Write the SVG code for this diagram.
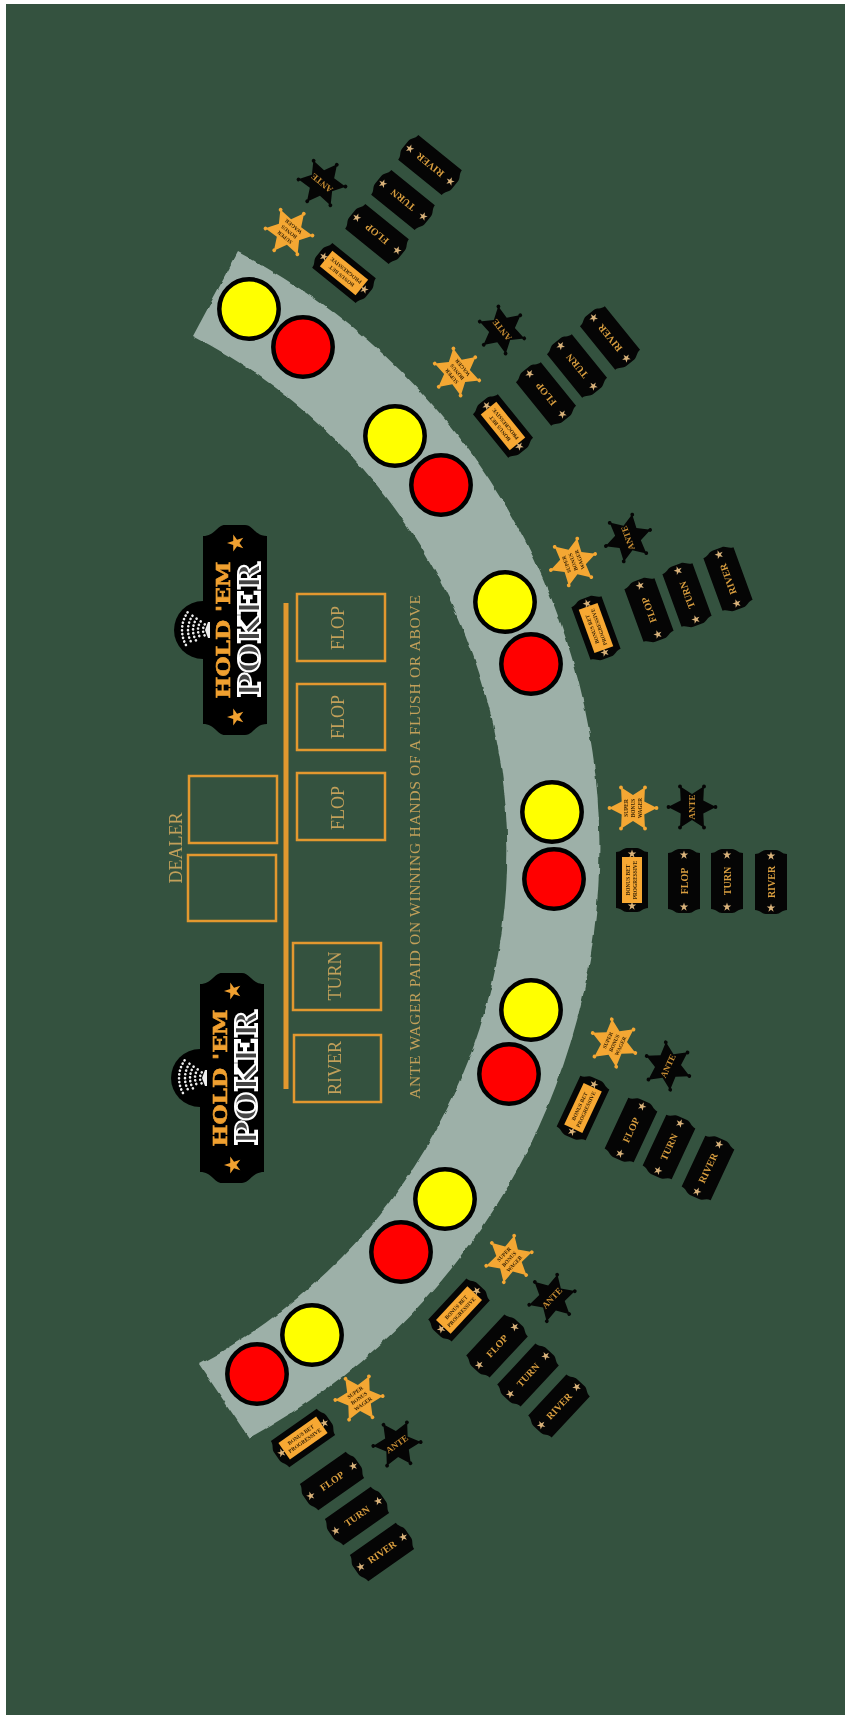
<svg xmlns="http://www.w3.org/2000/svg" width="845" height="1715" viewBox="0 0 845 1715">
<style>
text{font-family:"Liberation Serif","Times New Roman",serif;text-anchor:middle}
.box{fill:none;stroke:#e2982f;stroke-width:2.5}
.lab{font-size:18px;fill:#c2a05a}
.tt{font-size:10px;font-weight:700;fill:#d99e3f}
.an{font-size:9px;font-weight:700;fill:#c98f35}
.sm{font-size:5.4px;font-weight:700;fill:#3a2405}
.y{fill:#ffff00;stroke:#000;stroke-width:4.5}
.r{fill:#ff0000;stroke:#000;stroke-width:4.5}
.hold{font-family:"DejaVu Serif",serif;font-weight:700;font-size:18px;fill:#f0a030;stroke:#f0a030;stroke-width:.6}
.pok{font-family:"DejaVu Serif",serif;font-weight:700;font-size:30px;fill:#444;stroke:#fff;stroke-width:2}
</style>
<defs>
<filter id="rough" x="-5%" y="-5%" width="110%" height="110%" color-interpolation-filters="sRGB"><feTurbulence type="fractalNoise" baseFrequency="0.09" numOctaves="2" seed="4"/><feDisplacementMap in="SourceGraphic" scale="4" xChannelSelector="R" yChannelSelector="G"/></filter>
<filter id="soft" x="0" y="0" width="100%" height="100%" filterUnits="userSpaceOnUse" color-interpolation-filters="sRGB"><feGaussianBlur stdDeviation="0.55"/></filter>
<polygon id="s5" points="0,-1 .224,-.309 .951,-.309 .363,.118 .588,.809 0,.382 -.588,.809 -.363,.118 -.951,-.309 -.224,-.309"/>
<g id="ticket"><path d="M-16,-28C-11,-28-9,-32-5,-32L5,-32C9,-32 11,-28 16,-28L16,28C11,28 9,32 5,32L-5,32C-9,32-11,28-16,28Z" fill="#050505"/><use href="#s5" transform="translate(0,-26) scale(4.5)" fill="#d9b27a"/><use href="#s5" transform="translate(0,26) scale(4.5)" fill="#d9b27a"/></g>
<g id="blind"><use href="#ticket"/><rect x="-10" y="-23" width="20" height="46" fill="#f7a833"/></g>
<g id="star"><polygon points="24,0 11.3,6.5 12,20.8 0,13 -12,20.8 -11.3,6.5 -24,0 -11.3,-6.5 -12,-20.8 0,-13 12,-20.8 11.3,-6.5"/><circle cx="23.5" cy="0" r="1.9"/><circle cx="12" cy="20.5" r="1.9"/><circle cx="-12" cy="20.5" r="1.9"/><circle cx="-23.5" cy="0" r="1.9"/><circle cx="-12" cy="-20.5" r="1.9"/><circle cx="12" cy="-20.5" r="1.9"/></g>
<g id="plaque"><path d="M-32,-94C-20,-94-18,-105-10,-105L10,-105C18,-105 20,-94 32,-94L32,94C20,94 18,105 10,105L-10,105C-18,105-20,94-32,94Z" fill="#000"/><circle cx="-32" cy="0" r="29" fill="#000"/><g transform="translate(-32,0)" fill="none" stroke="#eee" stroke-width="2.6" stroke-linecap="round" stroke-dasharray="0.1 3.7"><path d="M1.8,-5.7A10,10 0 0 0 1.8,5.7"/><path d="M-2.3,-8.6A15,15 0 0 0 -2.3,8.6"/><path d="M-6.4,-11.4A20,20 0 0 0 -6.4,11.4"/><path d="M-10.5,-14.3A25,25 0 0 0 -10.5,14.3"/><path d="M-15.4,-17.7A31,31 0 0 0 -15.4,17.7"/></g><polygon points="-27,-8 -25,-8 -25,8 -27,8 -30,0" fill="#eee"/><use href="#s5" transform="translate(1,-87) rotate(-90) scale(9)" fill="#f0a030"/><use href="#s5" transform="translate(1,87) rotate(-90) scale(9)" fill="#f0a030"/></g>
</defs>
<rect width="845" height="1715" fill="#fff"/>
<g filter="url(#soft)">
<rect x="6" y="4" width="839" height="1711" fill="#34523f"/>
<path id="band" d="M238,252A672,672 0 0 1 249,1438L199,1364A580,580 0 0 0 193,336Z" fill="#9db0a8" filter="url(#rough)"/>
<g id="logo-top" transform="translate(235,630)"><use href="#plaque"/><text class="hold" transform="rotate(-90)" y="-5" textLength="137" lengthAdjust="spacingAndGlyphs">HOLD 'EM</text><text class="pok" transform="rotate(-90)" y="25" textLength="135" lengthAdjust="spacingAndGlyphs">POKER</text></g>
<g id="logo-bottom" transform="translate(232,1078)"><use href="#plaque"/><text class="hold" transform="rotate(-90)" y="-5" textLength="137" lengthAdjust="spacingAndGlyphs">HOLD 'EM</text><text class="pok" transform="rotate(-90)" y="25" textLength="135" lengthAdjust="spacingAndGlyphs">POKER</text></g>
<g id="layout">
<rect class="box" x="189" y="776" width="88" height="67"/>
<rect class="box" x="188" y="855" width="88" height="66"/>
<rect class="box" x="297" y="594" width="88" height="67"/>
<rect class="box" x="297" y="684" width="88" height="66"/>
<rect class="box" x="297" y="773" width="88" height="67"/>
<rect class="box" x="293" y="943" width="88" height="67"/>
<rect class="box" x="294" y="1035" width="87" height="67"/>
<rect x="283.5" y="603" width="5" height="486" fill="#e2982f"/>
<text class="lab" transform="translate(182,848) rotate(-90)">DEALER</text>
<text class="lab" transform="translate(344,628) rotate(-90)">FLOP</text>
<text class="lab" transform="translate(344,717) rotate(-90)">FLOP</text>
<text class="lab" transform="translate(344,808) rotate(-90)">FLOP</text>
<text class="lab" transform="translate(341,976) rotate(-90)">TURN</text>
<text class="lab" transform="translate(341,1068) rotate(-90)">RIVER</text>
<text class="lab" style="font-size:15.6px" transform="translate(420,847) rotate(-90)" textLength="504">ANTE WAGER PAID ON WINNING HANDS OF A FLUSH OR ABOVE</text>
</g>
<g id="spots">
<circle class="y" cx="249" cy="309" r="29.7"/><circle class="r" cx="303" cy="347" r="29.7"/>
<circle class="y" cx="395" cy="436" r="29.7"/><circle class="r" cx="441" cy="485" r="29.7"/>
<circle class="y" cx="505" cy="602" r="29.7"/><circle class="r" cx="531" cy="664" r="29.7"/>
<circle class="y" cx="552" cy="812" r="29.7"/><circle class="r" cx="554" cy="879" r="29.7"/>
<circle class="y" cx="531" cy="1010" r="29.7"/><circle class="r" cx="509" cy="1074" r="29.7"/>
<circle class="y" cx="445" cy="1199" r="29.7"/><circle class="r" cx="401" cy="1252" r="29.7"/>
<circle class="y" cx="312" cy="1335" r="29.7"/><circle class="r" cx="257" cy="1374" r="29.7"/>
</g>
<g id="seat-1">
<g transform="translate(289,232) rotate(-51)"><use href="#star" fill="#f4a733"/><g transform="rotate(-90)"><text class="sm" y="-5">SUPER</text><text class="sm" y="2">BONUS</text><text class="sm" y="9">WAGER</text></g></g>
<g transform="translate(322,183) rotate(-51)"><use href="#star" fill="#050505"/><text class="an" transform="rotate(-90)" y="3">ANTE</text></g>
<g transform="translate(344,273) rotate(-51)"><use href="#blind"/><g transform="rotate(-90)"><text class="sm" y="-2">BONUS BET</text><text class="sm" y="5">PROGRESSIVE</text></g></g>
<g transform="translate(377,234) rotate(-51)"><use href="#ticket"/><text class="tt" transform="rotate(-90)" y="3.5">FLOP</text></g>
<g transform="translate(403,200) rotate(-51)"><use href="#ticket"/><text class="tt" transform="rotate(-90)" y="3.5">TURN</text></g>
<g transform="translate(430,165) rotate(-51)"><use href="#ticket"/><text class="tt" transform="rotate(-90)" y="3.5">RIVER</text></g>
</g>
<g id="seat-2">
<g transform="translate(457,372) rotate(-39)"><use href="#star" fill="#f4a733"/><g transform="rotate(-90)"><text class="sm" y="-5">SUPER</text><text class="sm" y="2">BONUS</text><text class="sm" y="9">WAGER</text></g></g>
<g transform="translate(502,330) rotate(-39)"><use href="#star" fill="#050505"/><text class="an" transform="rotate(-90)" y="3">ANTE</text></g>
<g transform="translate(503,426) rotate(-39)"><use href="#blind"/><g transform="rotate(-90)"><text class="sm" y="-2">BONUS BET</text><text class="sm" y="5">PROGRESSIVE</text></g></g>
<g transform="translate(546,394) rotate(-39)"><use href="#ticket"/><text class="tt" transform="rotate(-90)" y="3.5">FLOP</text></g>
<g transform="translate(577,366) rotate(-39)"><use href="#ticket"/><text class="tt" transform="rotate(-90)" y="3.5">TURN</text></g>
<g transform="translate(610,338) rotate(-39)"><use href="#ticket"/><text class="tt" transform="rotate(-90)" y="3.5">RIVER</text></g>
</g>
<g id="seat-3">
<g transform="translate(573,562) rotate(-20)"><use href="#star" fill="#f4a733"/><g transform="rotate(-90)"><text class="sm" y="-5">SUPER</text><text class="sm" y="2">BONUS</text><text class="sm" y="9">WAGER</text></g></g>
<g transform="translate(628,538) rotate(-20)"><use href="#star" fill="#050505"/><text class="an" transform="rotate(-90)" y="3">ANTE</text></g>
<g transform="translate(596,628) rotate(-20)"><use href="#blind"/><g transform="rotate(-90)"><text class="sm" y="-2">BONUS BET</text><text class="sm" y="5">PROGRESSIVE</text></g></g>
<g transform="translate(649,610) rotate(-20)"><use href="#ticket"/><text class="tt" transform="rotate(-90)" y="3.5">FLOP</text></g>
<g transform="translate(687,595) rotate(-20)"><use href="#ticket"/><text class="tt" transform="rotate(-90)" y="3.5">TURN</text></g>
<g transform="translate(728,579) rotate(-20)"><use href="#ticket"/><text class="tt" transform="rotate(-90)" y="3.5">RIVER</text></g>
</g>
<g id="seat-4">
<g transform="translate(633,808)"><use href="#star" fill="#f4a733"/><g transform="rotate(-90)"><text class="sm" y="-5">SUPER</text><text class="sm" y="2">BONUS</text><text class="sm" y="9">WAGER</text></g></g>
<g transform="translate(692,807)"><use href="#star" fill="#050505"/><text class="an" transform="rotate(-90)" y="3">ANTE</text></g>
<g transform="translate(632,880)"><use href="#blind"/><g transform="rotate(-90)"><text class="sm" y="-2">BONUS BET</text><text class="sm" y="5">PROGRESSIVE</text></g></g>
<g transform="translate(684,881)"><use href="#ticket"/><text class="tt" transform="rotate(-90)" y="3.5">FLOP</text></g>
<g transform="translate(727,881)"><use href="#ticket"/><text class="tt" transform="rotate(-90)" y="3.5">TURN</text></g>
<g transform="translate(771,882)"><use href="#ticket"/><text class="tt" transform="rotate(-90)" y="3.5">RIVER</text></g>
</g>
<g id="seat-5">
<g transform="translate(614,1043) rotate(25)"><use href="#star" fill="#f4a733"/><g transform="rotate(-90)"><text class="sm" y="-5">SUPER</text><text class="sm" y="2">BONUS</text><text class="sm" y="9">WAGER</text></g></g>
<g transform="translate(668,1066) rotate(25)"><use href="#star" fill="#050505"/><text class="an" transform="rotate(-90)" y="3">ANTE</text></g>
<g transform="translate(583,1108) rotate(25)"><use href="#blind"/><g transform="rotate(-90)"><text class="sm" y="-2">BONUS BET</text><text class="sm" y="5">PROGRESSIVE</text></g></g>
<g transform="translate(631,1130) rotate(25)"><use href="#ticket"/><text class="tt" transform="rotate(-90)" y="3.5">FLOP</text></g>
<g transform="translate(669,1147) rotate(25)"><use href="#ticket"/><text class="tt" transform="rotate(-90)" y="3.5">TURN</text></g>
<g transform="translate(708,1168) rotate(25)"><use href="#ticket"/><text class="tt" transform="rotate(-90)" y="3.5">RIVER</text></g>
</g>
<g id="seat-6">
<g transform="translate(509,1259) rotate(43)"><use href="#star" fill="#f4a733"/><g transform="rotate(-90)"><text class="sm" y="-5">SUPER</text><text class="sm" y="2">BONUS</text><text class="sm" y="9">WAGER</text></g></g>
<g transform="translate(552,1298) rotate(43)"><use href="#star" fill="#050505"/><text class="an" transform="rotate(-90)" y="3">ANTE</text></g>
<g transform="translate(459,1310) rotate(43)"><use href="#blind"/><g transform="rotate(-90)"><text class="sm" y="-2">BONUS BET</text><text class="sm" y="5">PROGRESSIVE</text></g></g>
<g transform="translate(497,1346) rotate(43)"><use href="#ticket"/><text class="tt" transform="rotate(-90)" y="3.5">FLOP</text></g>
<g transform="translate(528,1375) rotate(43)"><use href="#ticket"/><text class="tt" transform="rotate(-90)" y="3.5">TURN</text></g>
<g transform="translate(559,1406) rotate(43)"><use href="#ticket"/><text class="tt" transform="rotate(-90)" y="3.5">RIVER</text></g>
</g>
<g id="seat-7">
<g transform="translate(359,1398) rotate(55)"><use href="#star" fill="#f4a733"/><g transform="rotate(-90)"><text class="sm" y="-5">SUPER</text><text class="sm" y="2">BONUS</text><text class="sm" y="9">WAGER</text></g></g>
<g transform="translate(397,1444) rotate(55)"><use href="#star" fill="#050505"/><text class="an" transform="rotate(-90)" y="3">ANTE</text></g>
<g transform="translate(303,1438) rotate(55)"><use href="#blind"/><g transform="rotate(-90)"><text class="sm" y="-2">BONUS BET</text><text class="sm" y="5">PROGRESSIVE</text></g></g>
<g transform="translate(332,1481) rotate(55)"><use href="#ticket"/><text class="tt" transform="rotate(-90)" y="3.5">FLOP</text></g>
<g transform="translate(357,1516) rotate(55)"><use href="#ticket"/><text class="tt" transform="rotate(-90)" y="3.5">TURN</text></g>
<g transform="translate(382,1552) rotate(55)"><use href="#ticket"/><text class="tt" transform="rotate(-90)" y="3.5">RIVER</text></g>
</g>
</g>
</svg>
